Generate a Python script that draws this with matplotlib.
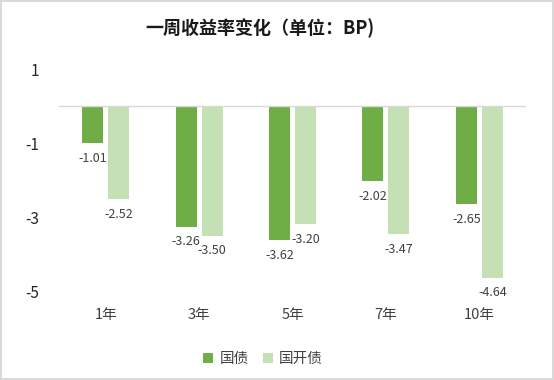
import numpy as np
import matplotlib
matplotlib.use('Agg')
import matplotlib.pyplot as plt

plt.rcParams['font.family'] = ['Noto Sans CJK SC', 'DejaVu Sans']
plt.rcParams['axes.unicode_minus'] = False

# 数据
categories = ['1年', '3年', '5年', '7年', '10年']
guozhai = [-1.01, -3.26, -3.62, -2.02, -2.65]
guokaizhai = [-2.52, -3.50, -3.20, -3.47, -4.64]
series_names = ['国债', '国开债']
colors = ['#70AD47', '#C5E0B4']

fig = plt.figure(figsize=(5.54, 3.80), dpi=100, edgecolor='#D9D9D9', linewidth=1.5)
ax = fig.add_axes([0.1065, 0.2342, 0.843, 0.584])

x = np.arange(len(categories))
w = 0.225
off = 0.139
b1 = ax.bar(x - off, guozhai, w, color=colors[0], label=series_names[0])
b2 = ax.bar(x + off, guokaizhai, w, color=colors[1], label=series_names[1])

# 数据标签
for bars, vals in [(b1, guozhai), (b2, guokaizhai)]:
    for r, v in zip(bars, vals):
        ax.annotate(f'{v:.2f}', (r.get_x() + r.get_width() / 2, v),
                    xytext=(0, -11), textcoords='offset points',
                    ha='center', va='center', fontsize=9, color='#404040')

ax.axhline(0, color='#D9D9D9', lw=1)
ax.set_xlim(-0.5, len(categories) - 0.5)
ax.set_ylim(-5, 1)
ax.set_yticks([1, -1, -3, -5])
ax.set_xticks(x)
ax.set_xticklabels(categories)
for s in ax.spines.values():
    s.set_visible(False)
ax.tick_params(axis='y', length=0, pad=14, labelsize=11, labelcolor='#262626')
ax.tick_params(axis='x', length=0, pad=12, labelsize=10.5, labelcolor='#404040')

fig.text(0.47, 0.925, '一周收益率变化（单位：BP)', ha='center', va='center',
         fontsize=13, fontweight='heavy', color='#1a1a1a')

fig.legend(handles=[b1, b2], loc='center', bbox_to_anchor=(0.475, 0.055),
           ncol=2, frameon=False, fontsize=10.5, handlelength=0.7, handleheight=0.7,
           columnspacing=1.0, handletextpad=0.4, labelcolor='#404040')

fig.savefig('out.png', dpi=100)
